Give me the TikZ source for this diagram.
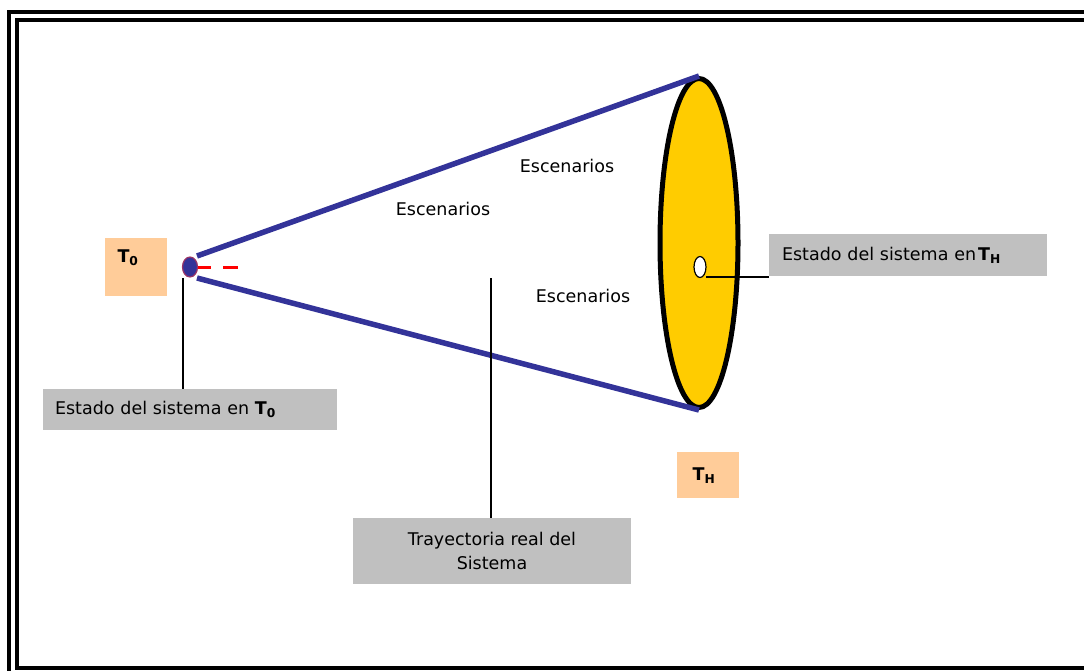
\documentclass[tikz,border=0pt]{standalone}
\usepackage{fontspec}
\setmainfont{DejaVu Sans}
\usetikzlibrary{shapes.geometric, positioning, calc}

\definecolor{coneblue}{RGB}{51,51,153}
\definecolor{diskyellow}{RGB}{255,204,0}
\definecolor{labelorange}{RGB}{255,204,153}
\definecolor{labelgray}{RGB}{192,192,192}
\definecolor{dotrim}{RGB}{153,51,102}

\begin{document}
\begin{tikzpicture}[x=1pt, y=-1pt,
    every node/.style={font=\fontsize{17.5}{24}\selectfont},
    graybox/.style={fill=labelgray, inner sep=0pt},
    orangebox/.style={fill=labelorange, inner sep=0pt},
    cone/.style={coneblue, line width=5.5pt},
    leader/.style={black, line width=1.5pt}]
  \clip (0,0) rectangle (1084,670);
  % double frame
  \draw[line width=4.5pt] (9,12) rectangle (1100,700);
  \draw[line width=4pt] (17,20) rectangle (1095,667.5);
  % cone
  \draw[red, line width=3pt, dash pattern=on 15pt off 12pt] (196,267) -- (242,267);
  \node[ellipse, draw=dotrim, fill=coneblue, line width=1.2pt, minimum width=15pt, minimum height=20pt, inner sep=0pt] (dot) at (190,267) {};
  \node[ellipse, draw, fill=diskyellow, line width=5pt, minimum width=78pt, minimum height=329pt, inner sep=0pt] (disk) at (699,243) {};
  \coordinate (uptail) at (197,256);
  \coordinate (lowtail) at (197,278);
  \draw[cone] (uptail) -- (disk.north);
  \draw[cone] (lowtail) -- (disk.south);
  \node[ellipse, draw, fill=white, line width=1.2pt, minimum width=12pt, minimum height=21pt, inner sep=0pt] (hole) at (700,267) {};
  % labels
  \node (scen1) at (443,209) {Escenarios};
  \node (scen2) at (567,166) {Escenarios};
  \node (scen3) at (583,296) {Escenarios};
  \node[orangebox, minimum width=62pt, minimum height=58pt] (t0box) at (136,267) {};
  \node (t0txt) at (128,258) {\textbf{T}\textsubscript{\textbf{0}}};
  \node[orangebox, minimum width=62pt, minimum height=46pt] (thbox) at (708,475) {};
  \node (thtxt) at (704,476) {\textbf{T}\textsubscript{\textbf{H}}};
  \node[graybox, minimum width=294pt, minimum height=41pt, text width=270pt, inner xsep=12pt, align=left] (est0) at (190,409.5) {Estado del sistema en \textbf{T}\textsubscript{\textbf{0}}};
  \node[graybox, minimum width=278pt, minimum height=42pt, text width=252pt, inner xsep=13pt, align=left] (estH) at (908,255) {Estado del sistema en\hspace{2pt}\textbf{T}\textsubscript{\textbf{H}}};
  \node[graybox, minimum width=278pt, minimum height=66pt, align=center] (tray) at (492,551) {Trayectoria real del\\Sistema};
  % leaders
  \coordinate (dotfoot) at (183,278);
  \coordinate (trajtop) at (491,278);
  \coordinate (holefoot) at (706,277);
  \draw[leader] (dotfoot) -- (dotfoot |- est0.north);
  \draw[leader] (trajtop) -- (trajtop |- tray.north);
  \draw[leader] (holefoot) -- (holefoot -| estH.west);
\end{tikzpicture}
\end{document}
